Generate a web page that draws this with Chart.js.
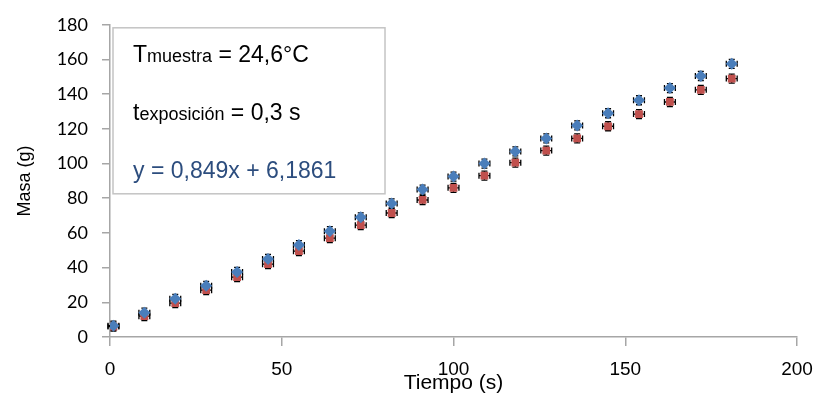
<!DOCTYPE html>
<html>
<head>
<meta charset="utf-8">
<script src="https://cdn.jsdelivr.net/npm/chart.js@4/dist/chart.umd.min.js"></script>
<style>
  html, body { margin: 0; padding: 0; background: #fff; }
  #wrap { width: 827px; height: 399px; position: relative; }
</style>
</head>
<body>
<div id="wrap"><canvas id="chart"></canvas></div>
<script>
const tiempo = [1, 10, 19, 28, 37, 46, 55, 64, 73, 82, 91, 100, 109, 118, 127, 136, 145, 154, 163, 172, 181]
const masaA = [6.5, 14, 22, 29.5, 37.5, 45, 53, 61, 69, 77, 85, 92.5, 100, 107, 114.5, 122, 129, 136.5, 143.5, 150.5, 157.5]
const masaB = [6, 12, 19.5, 27, 34.5, 42, 49.5, 57, 64.5, 71.5, 79, 86, 93, 100.5, 107.5, 114.5, 121.5, 128.5, 135.5, 142.5, 149]
const errTiempo = 1
const errMasa = 2.6
const boxLines = [
  { main: 'T', sub: 'muestra', rest: ' = 24,6°C', color: '#000' },
  { main: 't', sub: 'exposición', rest: ' = 0,3 s', color: '#000' },
  { main: 'y = 0,849x + 6,1861', sub: '', rest: '', color: '#2c4d7e' }
]

const toPoints = (ys) => tiempo.map((x, i) => ({ x, y: ys[i] }))

const errorBars = {
  id: 'errorBars',
  beforeDatasetsDraw (chart) {
    const { ctx, scales: { x, y } } = chart
    ctx.save()
    ctx.strokeStyle = '#000'
    ctx.lineWidth = 1.3
    chart.data.datasets.forEach((ds) => {
      ds.data.forEach((p) => {
        const px = x.getPixelForValue(p.x)
        const py = y.getPixelForValue(p.y)
        const x0 = x.getPixelForValue(p.x - errTiempo)
        const x1 = x.getPixelForValue(p.x + errTiempo)
        const y0 = y.getPixelForValue(p.y - errMasa)
        const y1 = y.getPixelForValue(p.y + errMasa)
        ctx.beginPath()
        ctx.moveTo(px, y0); ctx.lineTo(px, y1)
        ctx.moveTo(px - 3, y0); ctx.lineTo(px + 3, y0)
        ctx.moveTo(px - 3, y1); ctx.lineTo(px + 3, y1)
        ctx.moveTo(x0 - 2, py); ctx.lineTo(x1 + 2, py)
        ctx.moveTo(x0 - 2, py - 3); ctx.lineTo(x0 - 2, py + 3)
        ctx.moveTo(x1 + 2, py - 3); ctx.lineTo(x1 + 2, py + 3)
        ctx.stroke()
      })
    })
    ctx.restore()
  }
}

const textBox = {
  id: 'textBox',
  afterDraw (chart) {
    const { ctx, chartArea } = chart
    const left = chartArea.left + 3
    const top = chartArea.top + 3
    ctx.save()
    ctx.fillStyle = '#fff'
    ctx.strokeStyle = '#c4c4c4'
    ctx.lineWidth = 1.5
    ctx.fillRect(left, top, 272, 166)
    ctx.strokeRect(left, top, 272, 166)
    ctx.textBaseline = 'alphabetic'
    boxLines.forEach((line, i) => {
      let cx = left + 20
      const by = top + 34 + i * 58
      ctx.fillStyle = line.color
      ctx.font = '23px "Liberation Sans", Arial, sans-serif'
      ctx.fillText(line.main, cx, by)
      cx += ctx.measureText(line.main).width
      if (line.sub) {
        ctx.font = '18px "Liberation Sans", Arial, sans-serif'
        ctx.fillText(line.sub, cx, by)
        cx += ctx.measureText(line.sub).width
      }
      if (line.rest) {
        ctx.font = '23px "Liberation Sans", Arial, sans-serif'
        ctx.fillText(line.rest, cx, by)
      }
    })
    ctx.restore()
  }
}

const axisColor = '#a6a6a6'
const sans = '"Liberation Sans", Arial, sans-serif'

const config = {
  type: 'scatter',
  data: {
    datasets: [
      {
        label: 'A',
        data: toPoints(masaA),
        pointStyle: 'rectRot',
        pointRadius: 6,
        backgroundColor: '#4a7ebb',
        borderColor: '#4a7ebb',
        borderWidth: 0
      },
      {
        label: 'B',
        data: toPoints(masaB),
        pointStyle: 'rect',
        pointRadius: 5.5,
        backgroundColor: '#c0504d',
        borderColor: '#c0504d',
        borderWidth: 0
      }
    ]
  },
  options: {
    responsive: true,
    maintainAspectRatio: false,
    animation: false,
    layout: { padding: { top: 24, right: 30, left: 0, bottom: 0 } },
    scales: {
      x: {
        type: 'linear',
        min: 0,
        max: 200,
        afterFit: (s) => { s.height = 62 },
        ticks: { stepSize: 50, color: '#000', font: { family: sans, size: 19 }, padding: 12, maxRotation: 0 },
        grid: { drawOnChartArea: false, tickLength: 9, color: axisColor, lineWidth: 1.5 },
        border: { color: axisColor, width: 1.5 },
        title: { display: true, text: 'Tiempo (s)', color: '#000', font: { family: sans, size: 21 }, padding: { top: 0, bottom: 3 } }
      },
      y: {
        min: 0,
        max: 180,
        afterFit: (s) => { s.width = 110 },
        ticks: { stepSize: 20, color: '#000', font: { family: 'Lato, ' + sans, size: 18 }, padding: 14 },
        grid: { drawOnChartArea: false, tickLength: 8, color: axisColor, lineWidth: 1.5 },
        border: { color: axisColor, width: 1.5 },
        title: { display: true, text: 'Masa (g)', color: '#000', font: { family: sans, size: 18 }, padding: { top: 14, bottom: 0 } }
      }
    },
    plugins: {
      legend: { display: false },
      tooltip: { enabled: false }
    }
  },
  plugins: [errorBars, textBox]
}

new Chart(document.getElementById('chart'), config) // eslint-disable-line
</script>
</body>
</html>
